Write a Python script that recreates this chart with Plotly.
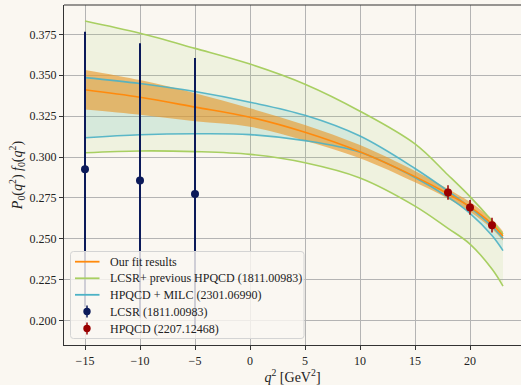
import plotly.graph_objects as go

# q^2 grid (GeV^2) on which the form-factor curves are tabulated
q2 = [-15, -10, -5, 0, 5, 10, 15, 18, 20, 22, 23]

# Our fit: central value and 1-sigma band
fit_central = [0.3411, 0.3365, 0.3305, 0.3243, 0.3151, 0.3032, 0.2880, 0.2775, 0.2695, 0.2590, 0.2517]
fit_upper   = [0.3532, 0.3470, 0.3390, 0.3298, 0.3196, 0.3073, 0.2915, 0.2805, 0.2725, 0.2620, 0.2545]
fit_lower   = [0.3290, 0.3258, 0.3218, 0.3185, 0.3100, 0.2992, 0.2845, 0.2745, 0.2665, 0.2560, 0.2490]

# LCSR + previous HPQCD (1811.00983) band
lcsr_hpqcd_upper = [0.3831, 0.3756, 0.3664, 0.3568, 0.3445, 0.3280, 0.3080, 0.2890, 0.2758, 0.2610, 0.2528]
lcsr_hpqcd_lower = [0.3026, 0.3037, 0.3033, 0.3016, 0.2965, 0.2872, 0.2700, 0.2564, 0.2468, 0.2315, 0.2211]

# HPQCD + MILC (2301.06990) band
milc_upper = [0.3485, 0.3449, 0.3400, 0.3335, 0.3255, 0.3128, 0.2930, 0.2792, 0.2692, 0.2575, 0.2503]
milc_lower = [0.3118, 0.3136, 0.3142, 0.3137, 0.3100, 0.3029, 0.2875, 0.2755, 0.2656, 0.2520, 0.2428]

# LCSR points (1811.00983)
lcsr_q2 = [-15, -10, -5]
lcsr_val = [0.2925, 0.2857, 0.2774]
lcsr_err = [0.0841, 0.0838, 0.0831]

# HPQCD lattice points (2207.12468)
hpqcd_q2 = [18, 20, 22]
hpqcd_val = [0.2783, 0.2692, 0.2583]
hpqcd_err = [0.0045, 0.0045, 0.0045]

legend_labels = ["Our fit results", "LCSR+ previous HPQCD (1811.00983)",
                 "HPQCD + MILC (2301.06990)", "LCSR (1811.00983)", "HPQCD (2207.12468)"]

ORANGE = "#ff8a0d"
GREEN = "#a8cf62"
CYAN = "#4cb2c6"
NAVY = "#0b1a5a"
RED = "#9a0000"
BG = "#faf7f1"
FONT = "Liberation Serif, Times New Roman, serif"

W, H = 521, 385
ML, MR, MT, MB = 64, 0, 5, 40
PW, PH = W - ML - MR, H - MT - MB

fig = go.Figure()


def band(upper, lower, fill):
    fig.add_trace(go.Scatter(x=q2, y=upper, mode="lines", line=dict(width=0, shape="spline"),
                             showlegend=False, hoverinfo="skip"))
    fig.add_trace(go.Scatter(x=q2, y=lower, mode="lines", line=dict(width=0, shape="spline"),
                             fill="tonexty", fillcolor=fill, showlegend=False, hoverinfo="skip"))


# shaded bands
band(lcsr_hpqcd_upper, lcsr_hpqcd_lower, "rgba(168,207,98,0.12)")
band(milc_upper, milc_lower, "rgba(76,178,198,0.15)")
band(fit_upper, fit_lower, "rgba(232,150,40,0.62)")

# band edges
for ys in (lcsr_hpqcd_upper, lcsr_hpqcd_lower):
    fig.add_trace(go.Scatter(x=q2, y=ys, mode="lines", line=dict(color=GREEN, width=1.6, shape="spline"),
                             showlegend=False, hoverinfo="skip"))
for ys in (milc_upper, milc_lower):
    fig.add_trace(go.Scatter(x=q2, y=ys, mode="lines", line=dict(color=CYAN, width=1.6, shape="spline"),
                             opacity=0.9, showlegend=False, hoverinfo="skip"))

fig.add_trace(go.Scatter(x=q2, y=fit_central, mode="lines",
                         line=dict(color=ORANGE, width=1.6, shape="spline"),
                         showlegend=False, name=legend_labels[0]))

fig.add_trace(go.Scatter(x=lcsr_q2, y=lcsr_val, mode="markers",
                         marker=dict(color=NAVY, size=8),
                         error_y=dict(type="data", array=lcsr_err, color=NAVY, thickness=2, width=0),
                         showlegend=False, name=legend_labels[3]))
fig.add_trace(go.Scatter(x=hpqcd_q2, y=hpqcd_val, mode="markers",
                         marker=dict(color=RED, size=8),
                         error_y=dict(type="data", array=hpqcd_err, color=RED, thickness=1.5, width=0),
                         showlegend=False, name=legend_labels[4]))


# legend box drawn in pixel units converted to paper coordinates
def px(xp):
    return (xp - ML) / PW


def py(yp):
    return (H - MB - yp) / PH


shapes = [dict(type="line", xref="paper", yref="paper", x0=0, x1=1, y0=1, y1=1,
               line=dict(color="#333", width=1.2))]

bx0, by0, bx1, by1, r = 70.5, 251.5, 304, 338.5, 3
path = (f"M {px(bx0 + r)},{py(by0)} L {px(bx1 - r)},{py(by0)} "
        f"Q {px(bx1)},{py(by0)} {px(bx1)},{py(by0 + r)} L {px(bx1)},{py(by1 - r)} "
        f"Q {px(bx1)},{py(by1)} {px(bx1 - r)},{py(by1)} L {px(bx0 + r)},{py(by1)} "
        f"Q {px(bx0)},{py(by1)} {px(bx0)},{py(by1 - r)} L {px(bx0)},{py(by0 + r)} "
        f"Q {px(bx0)},{py(by0)} {px(bx0 + r)},{py(by0)} Z")
shapes.append(dict(type="path", xref="paper", yref="paper", path=path,
                   fillcolor="rgba(250,247,241,0.82)", line=dict(color="#d4d4d4", width=1)))

rows = [261.7, 278.3, 294.8, 311.5, 328.5]
line_colors = [ORANGE, GREEN, CYAN]
for row, col in zip(rows[:3], line_colors):
    shapes.append(dict(type="line", xref="paper", yref="paper", x0=px(75), x1=px(99.5),
                       y0=py(row), y1=py(row), line=dict(color=col, width=1.8)))
for row, col in zip(rows[3:], [NAVY, RED]):
    shapes.append(dict(type="line", xref="paper", yref="paper", x0=px(87), x1=px(87),
                       y0=py(row - 6), y1=py(row + 6), line=dict(color=col, width=1.5)))
    shapes.append(dict(type="circle", xref="paper", yref="paper", x0=px(83.3), x1=px(90.7),
                       y0=py(row - 3.7), y1=py(row + 3.7), fillcolor=col, line=dict(color=col, width=0)))

annotations = [dict(text=lab, xref="paper", yref="paper", x=px(107.5), y=py(row),
                    xanchor="left", yanchor="middle", showarrow=False,
                    font=dict(family=FONT, size=12, color="#222"))
               for lab, row in zip(legend_labels, rows)]

fig.update_layout(
    width=W, height=H,
    margin=dict(l=ML, r=MR, t=MT, b=MB),
    paper_bgcolor=BG, plot_bgcolor=BG,
    font=dict(family=FONT, size=12, color="#222"),
    showlegend=False,
    shapes=shapes,
    annotations=annotations,
)
fig.update_xaxes(range=[-16.909, 24.636], tickvals=[-15, -10, -5, 0, 5, 10, 15, 20],
                 ticktext=["\u221215", "\u221210", "\u22125", "0", "5", "10", "15", "20"],
                 showgrid=True, gridcolor="#b4b4b4", gridwidth=1, zeroline=False,
                 showline=True, linecolor="#333", linewidth=1.2,
                 ticks="outside", ticklen=4, tickcolor="#333",
                 tickfont=dict(family=FONT, size=12),
                 title=dict(text="<i>q</i><sup>2</sup> [GeV<sup>2</sup>]", standoff=5,
                            font=dict(family=FONT, size=14)))
fig.update_yaxes(range=[0.18509, 0.39291], tickvals=[0.2, 0.225, 0.25, 0.275, 0.3, 0.325, 0.35, 0.375],
                 tickformat=".3f",
                 showgrid=True, gridcolor="#b4b4b4", gridwidth=1, zeroline=False,
                 showline=True, linecolor="#333", linewidth=1.2,
                 ticks="outside", ticklen=4, tickcolor="#333",
                 tickfont=dict(family=FONT, size=12),
                 title=dict(text="<i>P</i><sub>0</sub>(<i>q</i><sup>2</sup>) <i>f</i><sub>0</sub>(<i>q</i><sup>2</sup>)",
                            standoff=3, font=dict(family=FONT, size=14)))

fig.write_html("out.html")
